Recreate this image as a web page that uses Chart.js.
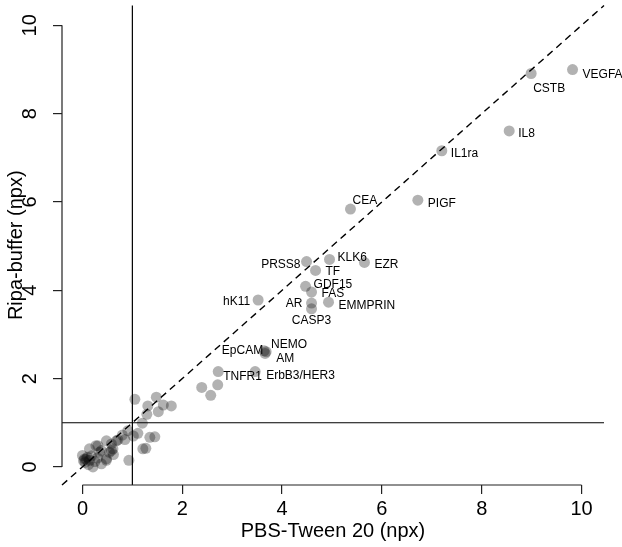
<!DOCTYPE html>
<html>
<head>
<meta charset="utf-8">
<script src="https://cdn.jsdelivr.net/npm/chart.js@4.4.1/dist/chart.umd.min.js"></script>
<style>
  body { margin: 0; background: #fff; }
  #wrap { width: 622px; height: 547px; }
</style>
</head>
<body>
<div id="wrap"><canvas id="chart"></canvas></div>
<script>
// labelled proteins (PBS-Tween 20 vs Ripa-buffer, npx)
const labelNames = ['VEGFA', 'CSTB', 'IL8', 'IL1ra', 'PIGF', 'CEA', 'KLK6', 'EZR', 'PRSS8', 'TF',
    'GDF15', 'FAS', 'AR', 'CASP3', 'EMMPRIN', 'hK11', 'NEMO', 'AM', 'EpCAM', 'TNFR1', 'ErbB3/HER3'];
const labelPbs = [9.82, 8.99, 8.55, 7.20, 6.72, 5.37, 4.95, 5.65, 4.49, 4.67,
    4.47, 4.59, 4.59, 4.59, 4.93, 3.52, 3.68, 3.66, 3.64, 2.72, 3.46];
const labelRipa = [9.00, 8.91, 7.61, 7.16, 6.04, 5.84, 4.70, 4.63, 4.65, 4.45,
    4.09, 3.96, 3.71, 3.58, 3.73, 3.78, 2.61, 2.57, 2.63, 2.16, 2.16];

// the rest, unlabelled
const otherPbs = [2.39, 2.57, 2.71,
    1.05, 1.48, 1.31, 1.62, 1.78, 1.52, 1.29, 1.20,
    1.11, 0.91, 1.35, 1.45, 1.21, 1.27, 0.93, 1.02,
    0.71, 0.58, 0.48, 0.68, 0.27, 0.34, 0.54, 0.61, 0.04, 0.14,
    0.00, 0.21, 0.48, 0.07, 0.02, 0.14, 0.31, 0.38, 0.58, 0.48,
    0.38, 0.10, 0.18, 0.25, 0.12, 0.30, 0.62, 0.80, 0.85, 0.05];
const otherRipa = [1.80, 1.62, 1.86,
    1.53, 1.58, 1.38, 1.40, 1.38, 1.25, 1.19, 0.99,
    0.76, 0.82, 0.67, 0.68, 0.41, 0.42, 0.15, 0.70,
    0.61, 0.52, 0.59, 0.59, 0.48, 0.33, 0.33, 0.41, 0.18, 0.15,
    0.26, 0.00, 0.15, 0.18, 0.14, 0.41, 0.48, 0.37, 0.37, 0.18,
    0.07, 0.22, 0.25, 0.12, 0.05, 0.20, 0.28, 0.72, 0.62, 0.10];

const xTicks = [0, 2, 4, 6, 8, 10];
const yTicks = [0, 2, 4, 6, 8, 10];
const cutoff = 1;

// where each label sits relative to its point: [dx, dy, align]
const labelPlace = [
    [10, 5, 'left'], [2, 15, 'left'], [9, 3, 'left'], [9, 3, 'left'], [10, 3, 'left'],
    [2, -8, 'left'], [8, -2, 'left'], [10, 2, 'left'], [-6, 3, 'right'], [10, 1, 'left'],
    [8, -2, 'left'], [10, 2, 'left'], [-9, 1, 'right'], [0, 12, 'center'], [10, 3, 'left'],
    [-8, 2, 'right'], [5, -7, 'left'], [11, 5, 'left'], [-1, 0, 'right'], [5, 5, 'left'],
    [11, 4, 'left']
];

const FONT = "'Liberation Sans', Arial, Helvetica, sans-serif";

const refLines = {
    id: 'refLines',
    beforeDatasetsDraw(chart) {
        const {ctx, chartArea: a, scales: {x, y}} = chart;
        ctx.save();
        ctx.strokeStyle = '#000';
        ctx.lineWidth = 1.2;
        ctx.beginPath();
        const yc = y.getPixelForValue(cutoff);
        ctx.moveTo(a.left, yc); ctx.lineTo(a.right, yc);
        const xc = x.getPixelForValue(cutoff);
        ctx.moveTo(xc, a.top); ctx.lineTo(xc, a.bottom);
        ctx.stroke();
        // identity line
        ctx.setLineDash([7, 5]);
        ctx.lineWidth = 1.4;
        ctx.beginPath();
        const lo = Math.max(x.min, y.min), hi = Math.min(x.max, y.max);
        ctx.moveTo(x.getPixelForValue(lo), y.getPixelForValue(lo));
        ctx.lineTo(x.getPixelForValue(hi), y.getPixelForValue(hi));
        ctx.stroke();
        ctx.restore();
    },
    afterDraw(chart) {
        // R style axis lines spanning first to last tick
        const {ctx, chartArea: a, scales: {x, y}} = chart;
        ctx.save();
        ctx.strokeStyle = '#222';
        ctx.lineWidth = 1.2;
        ctx.beginPath();
        ctx.moveTo(x.getPixelForValue(xTicks[0]), a.bottom);
        ctx.lineTo(x.getPixelForValue(xTicks[xTicks.length - 1]), a.bottom);
        ctx.moveTo(a.left, y.getPixelForValue(yTicks[0]));
        ctx.lineTo(a.left, y.getPixelForValue(yTicks[yTicks.length - 1]));
        ctx.stroke();
        ctx.restore();
    }
};

const pointLabels = {
    id: 'pointLabels',
    afterDatasetsDraw(chart) {
        const ctx = chart.ctx;
        const meta = chart.getDatasetMeta(0);
        ctx.save();
        ctx.font = '12px ' + FONT;
        ctx.fillStyle = '#000';
        ctx.textBaseline = 'middle';
        meta.data.forEach((pt, i) => {
            const p = labelPlace[i];
            ctx.textAlign = p[2];
            ctx.fillText(labelNames[i], pt.x + p[0], pt.y + p[1]);
        });
        ctx.restore();
    }
};

const axisStyle = (ticks, title) => ({
    type: 'linear',
    min: -0.41,
    max: 10.45,
    afterBuildTicks: s => { s.ticks = ticks.map(v => ({value: v})); },
    grid: {display: true, drawOnChartArea: false, drawTicks: true, tickLength: 9, color: '#222', lineWidth: 1.2},
    border: {display: false},
    ticks: {color: '#000', font: {size: 20, family: FONT}},
    title: {display: true, text: title, color: '#000', font: {size: 20, family: FONT}}
});

const xAxis = axisStyle(xTicks, 'PBS-Tween 20 (npx)');
xAxis.ticks.padding = 3;
xAxis.ticks.maxRotation = 0;
xAxis.title.padding = {top: 0, bottom: 4};
xAxis.afterFit = s => { s.height = 62; s.paddingLeft = 0; s.paddingRight = 0; };

const yAxis = axisStyle(yTicks, 'Ripa-buffer (npx)');
yAxis.ticks.padding = 11;
yAxis.ticks.minRotation = 90;
yAxis.ticks.maxRotation = 90;
yAxis.ticks.crossAlign = 'center';
yAxis.title.padding = {top: 4, bottom: 0};
yAxis.afterFit = s => { s.width = 62; s.paddingTop = 0; s.paddingBottom = 0; };

new Chart(document.getElementById('chart').getContext('2d'), {
    type: 'scatter',
    data: {
        datasets: [{
            label: 'labelled',
            data: labelPbs.map((v, i) => ({x: v, y: labelRipa[i]})),
            backgroundColor: 'rgba(0,0,0,0.3)',
            borderWidth: 0,
            pointRadius: 5.5
        }, {
            label: 'other',
            data: otherPbs.map((v, i) => ({x: v, y: otherRipa[i]})),
            backgroundColor: 'rgba(0,0,0,0.3)',
            borderWidth: 0,
            pointRadius: 5.5
        }]
    },
    options: {
        animation: false,
        responsive: true,
        maintainAspectRatio: false,
        layout: {padding: {top: 0, right: 18, bottom: 0, left: 0}},
        plugins: {legend: {display: false}, tooltip: {enabled: false}},
        scales: {x: xAxis, y: yAxis}
    },
    plugins: [refLines, pointLabels]
});
</script>
</body>
</html>
